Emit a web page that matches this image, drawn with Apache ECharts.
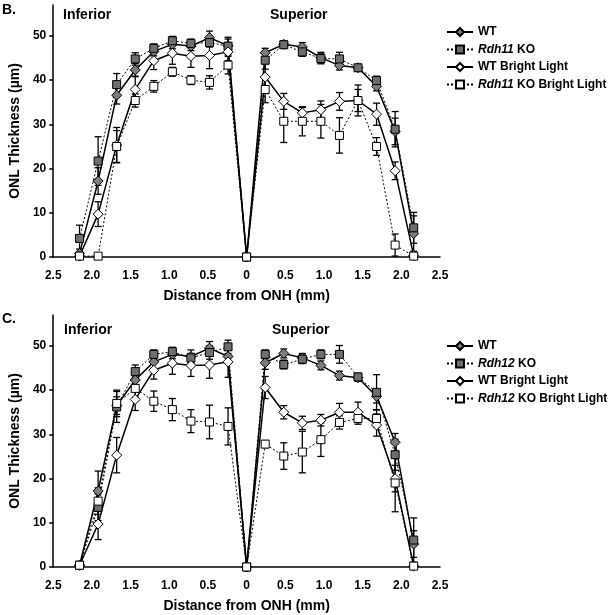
<!DOCTYPE html>
<html><head><meta charset="utf-8">
<script src="https://cdn.jsdelivr.net/npm/echarts@6/dist/echarts.min.js"></script>
<style>html,body{margin:0;padding:0;background:#fff}#c{width:615px;height:615px}</style>
</head><body><div id="c"></div>
<script>
// Distance from ONH (mm); negative = inferior, positive = superior
const distances = [-2.16,-1.92,-1.68,-1.44,-1.2,-0.96,-0.72,-0.48,-0.24,0,0.24,0.48,0.72,0.96,1.2,1.44,1.68,1.92,2.16];
const xTicks = [-2.5,-2,-1.5,-1,-0.5,0,0.5,1,1.5,2,2.5];
const yTicks = [0,10,20,30,40,50];

// Panel B (Rdh11)
const bWT    = [0.8,17.2,36.6,42.3,46.5,48.1,47.7,49.6,47.8,0,46.2,48.1,47.5,45.1,43.3,42.8,38.6,28.4,5.3];
const bKO    = [4.2,21.7,39.0,44.8,47.2,48.9,48.3,48.5,47.7,0,44.5,48.0,46.4,44.9,44.8,42.8,39.9,28.9,6.6];
const bWTBL  = [0.2,9.7,25.3,37.9,44.4,46.1,45.4,45.6,46.4,0,40.7,35.2,32.6,33.3,35.2,35.4,32.3,19.5,0.3];
const bKOBL  = [0.2,0.2,25.0,35.4,38.6,41.9,40.0,39.5,43.4,0,37.9,30.7,30.7,30.7,27.5,35.4,25.0,2.7,0.2];
const bWTe   = [1,3,2,1.5,1,1,1,1.5,1.5,0,1,0.8,1,1.2,1,0.7,1,3,4];
const bKOe   = [3,5.5,2.5,1.4,1,1,1,1,2,0,2,0.8,1,1.2,1.5,0.7,1,4,3.5];
const bWTBLe = [0.5,2.8,4,3,2,2.5,2.5,3,2,0,3,1.8,1.2,2,2,2.5,2.5,2,0.5];
const bKOBLe = [0.2,0.2,3.6,1.5,1.3,1,1,1.5,2,0,3,4.8,3.3,3.8,4,3.5,2,2.5,0.2];

// Panel C (Rdh12)
const cWT    = [0.4,17.2,36.5,42.3,46.4,48.1,47.6,49.5,47.6,0,46.2,48.3,47.3,45.6,43.3,42.8,38.6,28.2,5.2];
const cKO    = [0.4,13.5,36.2,44.2,48.1,48.7,47.3,48.5,49.8,0,48.1,45.8,47.0,48.1,48.1,43.0,39.5,25.4,6.1];
const cWTBL  = [0.4,9.7,25.3,37.9,44.5,46.1,45.6,45.7,46.4,0,40.6,35.0,32.6,33.2,35.0,35.0,32.1,20.0,0.2];
const cKOBL  = [0.4,14.9,37.0,40.4,37.5,35.6,33.0,32.8,31.8,0,27.8,25.1,26.0,28.8,32.7,33.6,33.6,19.0,0.2];
const cWTe   = [0.5,4.5,2,1.5,1.5,1,1.5,1.5,1.5,0,1.5,1,1,1,1,0.8,1.5,2,3];
const cKOe   = [0.5,3,3.5,1.5,1,1,1,1.5,1.5,0,1,1,1,1,2,0.8,4,3.5,5];
const cWTBLe = [0.5,3.5,4,2.5,2,2.5,2.5,3,3.5,0,2.5,1.5,1.5,1.3,2,2.3,2.5,3,0.3];
const cKOBLe = [0.3,3,3,2,2.3,2.5,2.6,3.8,4.2,0,0.8,3,4.7,3.8,1.5,1.3,2,6.5,0.3];

const namesB = ['WT','Rdh11 KO','WT Bright Light','Rdh11 KO Bright Light'];
const namesC = ['WT','Rdh12 KO','WT Bright Light','Rdh12 KO Bright Light'];

const FONT = '"Liberation Sans", Arial, sans-serif';
const styles = [
  {symbol:'diamond', fill:'#7c7c7c', dash:'solid', lw:1.5, size:[10,10]},
  {symbol:'rect', fill:'#6e6e6e', dash:[2,2], lw:1, size:[8,8]},
  {symbol:'diamond', fill:'#ffffff', dash:'solid', lw:1.5, size:[10,10]},
  {symbol:'rect', fill:'#ffffff', dash:[2,2], lw:1, size:[8,8]}
];

function lineSeries(name, vals, k, idx){
  const s = styles[k];
  return {type:'line', name, xAxisIndex:idx, yAxisIndex:idx, z:3, clip:false,
    data: distances.map((x,i)=>[x, vals[i]]),
    symbol:s.symbol, symbolSize:s.size, showAllSymbol:true,
    lineStyle:{color:'#000', width:s.lw, type:s.dash},
    itemStyle:{color:s.fill, borderColor:'#000', borderWidth:1},
    emphasis:{disabled:true}};
}
function errSeries(vals, errs, idx){
  return {type:'custom', xAxisIndex:idx, yAxisIndex:idx, z:2, silent:true, clip:false,
    data: distances.map((x,i)=>[x, Math.max(0, vals[i]-errs[i]), vals[i]+errs[i], errs[i]]),
    renderItem:(params, api)=>{
      if (api.value(3) <= 0) return {type:'group', children:[]};
      const lo = api.coord([api.value(0), api.value(1)]);
      const hi = api.coord([api.value(0), api.value(2)]);
      const w = 3.5, st = {stroke:'#000', lineWidth:1.3};
      return {type:'group', children:[
        {type:'line', shape:{x1:lo[0],y1:lo[1],x2:hi[0],y2:hi[1]}, style:st},
        {type:'line', shape:{x1:lo[0]-w,y1:lo[1],x2:lo[0]+w,y2:lo[1]}, style:st},
        {type:'line', shape:{x1:hi[0]-w,y1:hi[1],x2:hi[0]+w,y2:hi[1]}, style:st}
      ]};
    }};
}

function xAx(idx){
  return {type:'value', gridIndex:idx, min:-2.5, max:2.5, interval:0.5,
    name:'Distance from ONH (mm)', nameLocation:'middle', nameGap:32,
    nameTextStyle:{fontFamily:FONT, fontWeight:'bold', fontSize:14, color:'#000'},
    axisLine:{onZero:false, lineStyle:{color:'#000', width:1.5}},
    axisTick:{show:false}, splitLine:{show:false},
    axisLabel:{fontFamily:FONT, fontWeight:'bold', fontSize:12, color:'#000', margin:13,
      formatter: v => Math.abs(v) < 1e-9 ? '0' : Math.abs(v).toFixed(1)}};
}
function yAx(idx){
  return {type:'value', gridIndex:idx, min:0, max:57,
    name:'ONL Thickness (\u00b5m)', nameLocation:'middle', nameGap:27,
    nameTextStyle:{fontFamily:FONT, fontWeight:'bold', fontSize:14, color:'#000'},
    axisLine:{show:true, onZero:false, lineStyle:{color:'#000', width:1.5}},
    axisTick:{show:true, length:4, lineStyle:{color:'#000', width:1.5}, customValues:yTicks},
    splitLine:{show:false},
    axisLabel:{fontFamily:FONT, fontWeight:'bold', fontSize:12, color:'#000', margin:7, customValues:yTicks}};
}
function legend(names, top){
  return {orient:'vertical', left:441, top, itemWidth:26, itemHeight:10, itemGap:5.5,
    selectedMode:false, data:names,
    formatter: n => n.startsWith('Rdh') ? '{i|'+n.split(' ')[0]+'}{n| '+n.slice(n.indexOf(' ')+1)+'}' : '{n|'+n+'}',
    textStyle:{rich:{
      i:{fontFamily:FONT, fontWeight:'bold', fontStyle:'italic', fontSize:12, color:'#000'},
      n:{fontFamily:FONT, fontWeight:'bold', fontSize:12, color:'#000'}}}};
}

const txt = (t, x, y) => ({type:'text', left:x, top:y, style:{text:t, font:'bold 14px '+FONT, fill:'#000'}});

const option = {
  animation:false,
  grid:[{left:46, top:5, width:394, height:252}, {left:46, top:315, width:394, height:252}],
  xAxis:[xAx(0), xAx(1)],
  yAxis:[yAx(0), yAx(1)],
  legend:[legend(namesB, 21), legend(namesC, 335)],
  graphic:[txt('B.',2,3), txt('Inferior',63,8), txt('Superior',270,8),
           txt('C.',2,312), txt('Inferior',64,323), txt('Superior',272,323)],
  series:[
    errSeries(bWT,bWTe,0), errSeries(bKO,bKOe,0), errSeries(bWTBL,bWTBLe,0), errSeries(bKOBL,bKOBLe,0),
    lineSeries(namesB[0], bWT, 0, 0), lineSeries(namesB[1], bKO, 1, 0),
    lineSeries(namesB[2], bWTBL, 2, 0), lineSeries(namesB[3], bKOBL, 3, 0),
    errSeries(cWT,cWTe,1), errSeries(cKO,cKOe,1), errSeries(cWTBL,cWTBLe,1), errSeries(cKOBL,cKOBLe,1),
    lineSeries(namesC[0], cWT, 0, 1), lineSeries(namesC[1], cKO, 1, 1),
    lineSeries(namesC[2], cWTBL, 2, 1), lineSeries(namesC[3], cKOBL, 3, 1)
  ]
};
echarts.init(document.getElementById('c'), null, {renderer:'canvas'}).setOption(option);
</script>
</body></html>
